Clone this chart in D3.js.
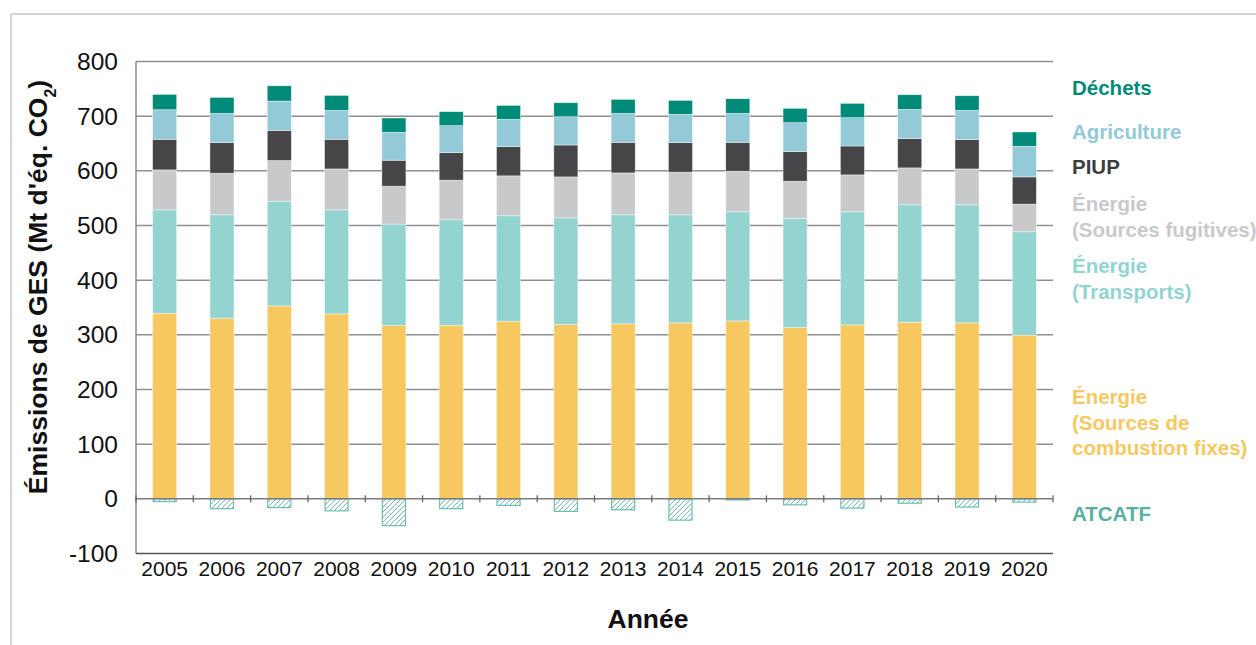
<!DOCTYPE html>
<html>
<head>
<meta charset="utf-8">
<title>Émissions de GES</title>
<script src="https://d3js.org/d3.v7.min.js"></script>
<style>
body { margin: 0; background: white; }
svg { display: block; font-family: Arial, "Liberation Sans", sans-serif; }
.grid { stroke: #8f8f8f; stroke-width: 1.5; }
.tick-label { font-size: 24.5px; fill: #111; }
.year-label { font-size: 21px; fill: #111; }
.legend { font-size: 20.5px; font-weight: bold; }
.title { font-size: 26.5px; font-weight: bold; fill: #111; }
</style>
</head>
<body>
<svg width="1256" height="645"></svg>
<script>
// data (Mt éq. CO2)
var years = ["2005","2006","2007","2008","2009","2010","2011","2012","2013","2014","2015","2016","2017","2018","2019","2020"];
var combustionFixes = [339.5, 330.4, 352.9, 338.3, 317.0, 317.6, 324.9, 318.9, 320.1, 321.9, 325.5, 313.4, 318.2, 323.1, 321.9, 299.4];
var transports = [189.2, 189.2, 191.6, 190.4, 185.6, 192.9, 192.9, 195.2, 199.5, 197.7, 199.6, 199.5, 206.9, 214.7, 215.9, 189.2];
var fugitives = [73.0, 76.0, 74.3, 74.8, 69.3, 72.4, 73.0, 74.8, 76.6, 77.9, 74.2, 68.1, 67.5, 67.6, 65.7, 50.5];
var piup = [56.0, 56.0, 55.3, 54.2, 47.5, 50.4, 53.5, 58.4, 56.0, 54.1, 52.9, 54.2, 52.9, 53.5, 53.6, 49.8];
var agriculture = [54.1, 53.5, 53.5, 52.9, 51.1, 49.3, 49.9, 51.7, 52.9, 51.7, 52.9, 52.9, 51.7, 53.5, 53.5, 56.0];
var dechets = [28.0, 29.2, 28.0, 27.4, 26.1, 25.6, 25.5, 25.6, 25.6, 25.6, 26.8, 26.2, 26.2, 26.8, 26.8, 26.2];
var atcatf = [-5, -18, -16, -22, -49, -18, -12, -23, -20, -39, -2, -11, -17, -8, -15, -6];

var seriesKeys = ["fixes", "transports", "fugitives", "piup", "agriculture", "dechets"];
var seriesValues = [combustionFixes, transports, fugitives, piup, agriculture, dechets];
var seriesColors = ["#f6c85f", "#93d4d1", "#c8c9cb", "#464648", "#94c9d8", "#008b79"];

var yTicks = [-100, 0, 100, 200, 300, 400, 500, 600, 700, 800];

var legendLines = [
  ["Déchets"],
  ["Agriculture"],
  ["PIUP"],
  ["Énergie", "(Sources fugitives)"],
  ["Énergie", "(Transports)"],
  ["Énergie", "(Sources de", "combustion fixes)"],
  ["ATCATF"]
];
var legendColors = ["#008b79", "#94c9d8", "#3d3d3f", "#c8c9cb", "#93d4d1", "#f6c85f", "#5aafa3"];

var svg = d3.select("svg");

var plotLeft = 136, plotRight = 1053, plotTop = 61.5, plotBottom = 553.5;

var x = d3.scaleBand().domain(years).range([plotLeft, plotRight]).paddingInner(0.58).paddingOuter(0.29);
var y = d3.scaleLinear().domain([-100, 800]).range([plotBottom, plotTop]);

// outer frame of the figure
svg.append("line").attr("x1", 11).attr("x2", 1256).attr("y1", 14).attr("y2", 14)
  .style("stroke", "#c6c6c6").style("stroke-width", 1.5);
svg.append("line").attr("x1", 11).attr("x2", 11).attr("y1", 14).attr("y2", 645)
  .style("stroke", "#c6c6c6").style("stroke-width", 1.5);

// hatch for ATCATF
var defs = svg.append("defs");
var pat = defs.append("pattern").attr("id", "hatch")
  .attr("patternUnits", "userSpaceOnUse").attr("width", 5).attr("height", 5);
pat.append("path").attr("d", "M-1,6 L6,-1 M-1,1 L1,-1 M4,6 L6,4")
  .style("stroke", "#5fb3a7").style("stroke-width", 0.9);

// gridlines
svg.append("g").selectAll("line").data(yTicks.filter(function(d){ return d > 0; })).enter().append("line")
  .attr("class", "grid")
  .attr("x1", plotLeft).attr("x2", plotRight)
  .attr("y1", function(d){ return y(d); })
  .attr("y2", function(d){ return y(d); });

// y axis line and labels
svg.append("line").attr("x1", plotLeft).attr("x2", plotLeft).attr("y1", plotTop).attr("y2", plotBottom)
  .style("stroke", "#8a8a8a").style("stroke-width", 1.5);
svg.append("g").selectAll("text").data(yTicks).enter().append("text")
  .attr("class", "tick-label")
  .attr("x", 118)
  .attr("y", function(d){ return y(d) + 8.5; })
  .attr("text-anchor", "end")
  .text(function(d){ return d; });

// stacked bars
var table = years.map(function(yr, i){
  var row = {year: yr};
  seriesKeys.forEach(function(k, j){ row[k] = seriesValues[j][i]; });
  return row;
});
var stacked = d3.stack().keys(seriesKeys)(table);

svg.append("g").selectAll("g").data(stacked).enter().append("g")
  .style("fill", function(d, i){ return seriesColors[i]; })
  .selectAll("rect").data(function(d){ return d; }).enter().append("rect")
  .attr("x", function(d){ return x(d.data.year); })
  .attr("width", x.bandwidth())
  .attr("y", function(d){ return y(d[1]); })
  .attr("height", function(d){ return y(d[0]) - y(d[1]); })
  .style("stroke", "rgba(255,255,255,0.6)")
  .style("stroke-width", 0.7);

// ATCATF (negative, hatched)
svg.append("g").selectAll("rect").data(atcatf).enter().append("rect")
  .attr("x", function(d, i){ return x(years[i]) + 0.5; })
  .attr("width", x.bandwidth() - 1)
  .attr("y", y(0))
  .attr("height", function(d){ return y(d) - y(0); })
  .style("fill", "url(#hatch)")
  .style("stroke", "#6cbdb1")
  .style("stroke-width", 1.2);

// zero line with ticks between categories
svg.append("line").attr("x1", plotLeft).attr("x2", plotRight).attr("y1", y(0)).attr("y2", y(0))
  .style("stroke", "#7a7a7a").style("stroke-width", 1.5);
var step = x.step();
svg.append("g").selectAll("line").data(d3.range(years.length + 1)).enter().append("line")
  .attr("x1", function(i){ return plotLeft + i * step; })
  .attr("x2", function(i){ return plotLeft + i * step; })
  .attr("y1", y(0) - 3.5).attr("y2", y(0) + 3.5)
  .style("stroke", "#666").style("stroke-width", 1.3);

// bottom axis line
svg.append("line").attr("x1", plotLeft).attr("x2", plotRight).attr("y1", y(-100)).attr("y2", y(-100))
  .style("stroke", "#555").style("stroke-width", 1.5);

// year labels
svg.append("g").selectAll("text").data(years).enter().append("text")
  .attr("class", "year-label")
  .attr("x", function(d){ return x(d) + x.bandwidth() / 2; })
  .attr("y", 576)
  .attr("text-anchor", "middle")
  .text(function(d){ return d; });

// axis titles
svg.append("text").attr("class", "title")
  .attr("x", 648).attr("y", 628)
  .attr("text-anchor", "middle")
  .text("Année");

var yt = svg.append("text").attr("class", "title")
  .attr("transform", "translate(47,287) rotate(-90)")
  .attr("text-anchor", "middle");
yt.append("tspan").text("Émissions de GES (Mt d'éq. CO");
yt.append("tspan").attr("baseline-shift", "sub").style("font-size", "16px").text("2");
yt.append("tspan").text(")");

// legend labels on the right
var legendY = [95, 139, 174, 211, 273, 404, 521];
legendLines.forEach(function(lines, i){
  var t = svg.append("text").attr("class", "legend")
    .attr("x", 1072).attr("y", legendY[i])
    .style("fill", legendColors[i]);
  lines.forEach(function(l, j){
    t.append("tspan").attr("x", 1072).attr("dy", j === 0 ? 0 : 25.5).text(l);
  });
});
</script>
</body>
</html>
